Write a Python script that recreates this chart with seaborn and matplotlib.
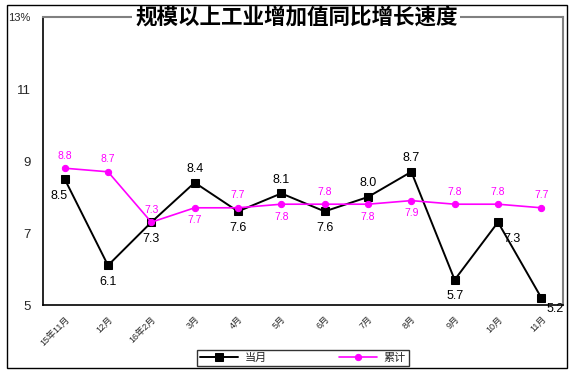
import numpy as np
import pandas as pd
import seaborn as sns
import matplotlib.pyplot as plt
from matplotlib.patches import Rectangle

months = ["15年11月", "12月", "16年2月", "3月", "4月", "5月", "6月", "7月", "8月", "9月", "10月", "11月"]
monthly = [8.5, 6.1, 7.3, 8.4, 7.6, 8.1, 7.6, 8.0, 8.7, 5.7, 7.3, 5.2]
cumulative = [8.8, 8.7, 7.3, 7.7, 7.7, 7.8, 7.8, 7.8, 7.9, 7.8, 7.8, 7.7]
y_ticks = [5, 7, 9, 11, 13]
y_labels = ["5", "7", "9", "11", "13%"]

# label placement: +1 above, -1 below
monthly_pos = [-1, -1, -1, 1, -1, 1, -1, 1, 1, -1, -1, -1]
cum_pos = [1, 1, 1, -1, 1, -1, 1, -1, -1, 1, 1, 1]

sns.set_style("white")
plt.rcParams['font.family'] = ['Liberation Sans', 'Noto Sans CJK SC', 'DejaVu Sans']

df = pd.DataFrame({"idx": np.arange(len(months)), "当月": monthly, "累计": cumulative})

fig = plt.figure(figsize=(5.77, 3.74), dpi=100)
ax = fig.add_axes([43/577, 1-305/374, (563-43)/577, (305-17)/374])

sns.lineplot(data=df, x="idx", y="当月", ax=ax, color="black", lw=1.4,
             marker="s", markersize=6, markeredgecolor="black", label="当月")
sns.lineplot(data=df, x="idx", y="累计", ax=ax, color="#ff00ff", lw=1.2,
             marker="o", markersize=4.5, markeredgecolor="#ff00ff", label="累计")

for i, v in enumerate(monthly):
    off = 10 if monthly_pos[i] > 0 else -12
    dx = 0
    if i == 0:
        dx = -4
    if i == 10:
        dx = 10
    if i == 11:
        dx = 10; off = -8
    ax.annotate(f"{v:.1f}", (i, v), xytext=(dx, off), textcoords="offset points",
                ha="center", va="center", fontsize=9, color="black")
for i, v in enumerate(cumulative):
    off = 9 if cum_pos[i] > 0 else -9
    ax.annotate(f"{v:.1f}", (i, v), xytext=(0, off), textcoords="offset points",
                ha="center", va="center", fontsize=7.5, color="#ff00ff")

ax.set_xlim(-0.5, len(months) - 0.5)
ax.set_ylim(5, 13)
ax.set_yticks(y_ticks)
ax.set_yticklabels(y_labels)
ax.set_xticks(np.arange(len(months)))
ax.set_xticklabels(months, rotation=45, ha="right", rotation_mode="anchor", fontsize=6.5)
ax.set_xticks(np.arange(len(months) + 1) - 0.5, minor=True)
ax.tick_params(axis="x", which="major", length=0, pad=7)
ax.tick_params(axis="x", which="minor", direction="in", length=3, color="black")
ax.tick_params(axis="y", direction="in", length=3, color="black", labelsize=9.5, pad=9)
ax.get_yticklabels()[-1].set_fontsize(8)
ax.set_xlabel("")
ax.set_ylabel("")

for s in ["left", "bottom"]:
    ax.spines[s].set_color("black")
    ax.spines[s].set_linewidth(1.2)
for s in ["top", "right"]:
    ax.spines[s].set_color("#808080")
    ax.spines[s].set_linewidth(1.5)

ax.text(0.487, 1.0, "规模以上工业增加值同比增长速度", transform=ax.transAxes,
        ha="center", va="center", fontsize=15.5, fontweight="bold", color="black",
        family=['Noto Sans CJK SC'],
        bbox=dict(facecolor="white", edgecolor="none", pad=2))

leg = ax.legend(loc="center", bbox_to_anchor=(303/577, 1-358/374), bbox_transform=fig.transFigure,
                ncol=2, frameon=True, fancybox=False, fontsize=8, handlelength=3.4,
                handletextpad=0.6, columnspacing=6.5, borderpad=0.3)
leg.get_frame().set_edgecolor("black")
leg.get_frame().set_linewidth(1.0)

fig.patches.append(Rectangle((7/577, 1-368/374), 560/577, 363/374, transform=fig.transFigure,
                             fill=False, edgecolor="black", lw=1.0))

fig.savefig("out.png", dpi=100)
